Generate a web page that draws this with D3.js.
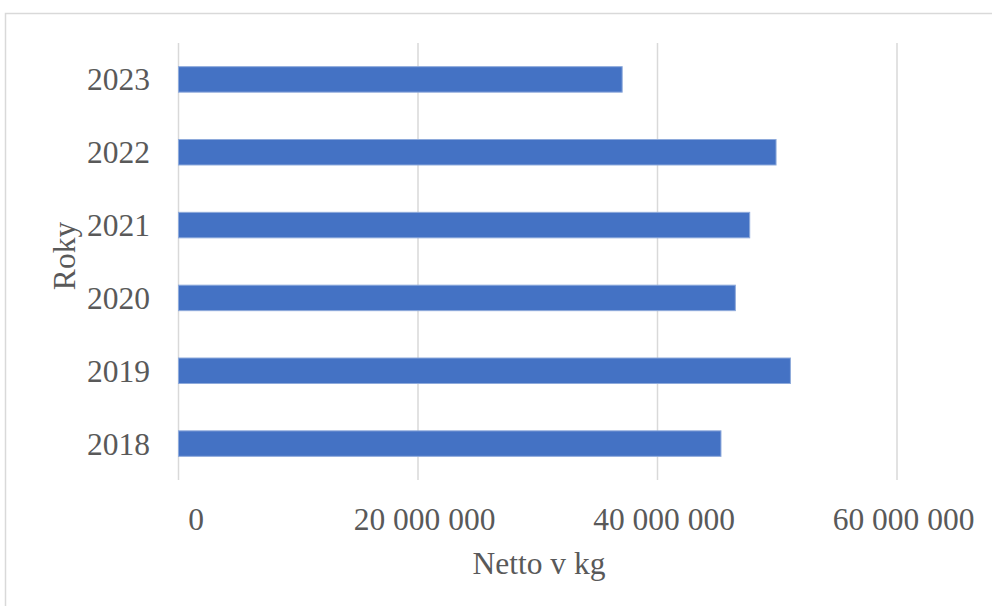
<!DOCTYPE html>
<html>
<head>
<meta charset="utf-8">
<script src="https://cdn.jsdelivr.net/npm/d3@7"></script>
<style>
  body { margin: 0; background: #fff; }
  text { font-family: "Liberation Serif", "Times New Roman", serif; }
</style>
</head>
<body>
<svg width="992" height="606"></svg>
<script>
// data
const years = ['2018', '2019', '2020', '2021', '2022', '2023']
const netto = [45300000, 51100000, 46500000, 47700000, 49900000, 37050000]
const xTicks = [0, 20000000, 40000000, 60000000]

const fontSize = 31.5
const svg = d3.select('svg')

// chart frame (only top and left edge show)
svg.append('path')
    .attr('d', 'M5.5,606 V13.5 H992')
    .attr('fill', 'none')
    .attr('stroke', '#d9d9d9')
    .attr('stroke-width', 1.5)

const xScale = d3.scaleLinear()
    .domain([0, 60000000])
    .range([178.5, 897])

const yScale = d3.scaleBand()
    .domain(years.slice().reverse())
    .range([43, 480])
    .paddingInner(0.65)
    .paddingOuter(0.325)

// gridlines
svg.selectAll('line.grid')
    .data(xTicks)
    .join('line')
    .attr('class', 'grid')
    .attr('x1', d => xScale(d))
    .attr('x2', d => xScale(d))
    .attr('y1', 43)
    .attr('y2', 480)
    .attr('stroke', '#d9d9d9')
    .attr('stroke-width', 1.5)

// bars
svg.selectAll('rect.bar')
    .data(years.map((y, i) => ({ year: y, value: netto[i] })))
    .join('rect')
    .attr('class', 'bar')
    .attr('x', xScale(0))
    .attr('y', d => yScale(d.year))
    .attr('width', d => xScale(d.value) - xScale(0))
    .attr('height', yScale.bandwidth())
    .attr('fill', '#4472c4')
    .attr('stroke', '#8eaadb')
    .attr('stroke-width', 1)

// x axis labels
const fmt = d => d3.format(',')(d).replace(/,/g, ' ')
const xAxis = d3.axisBottom(xScale)
    .tickValues(xTicks)
    .tickFormat(fmt)
    .tickSize(0)
    .tickPadding(0)

const gx = svg.append('g')
    .attr('transform', 'translate(0,530)')
    .call(xAxis)
gx.select('.domain').remove()
gx.selectAll('text')
    .attr('dy', 0)
    .attr('dx', d => d === 0 ? 17 : 6)
    .attr('font-size', fontSize)
    .attr('font-family', '"Liberation Serif", serif')
    .attr('fill', '#595959')

// y axis labels
const yAxis = d3.axisLeft(yScale)
    .tickSize(0)
    .tickPadding(28.5)

const gy = svg.append('g')
    .attr('transform', `translate(${xScale(0)},0)`)
    .call(yAxis)
gy.select('.domain').remove()
gy.selectAll('text')
    .attr('dy', '0.35em')
    .attr('font-size', fontSize)
    .attr('font-family', '"Liberation Serif", serif')
    .attr('fill', '#595959')

// axis titles
svg.append('text')
    .attr('x', 539)
    .attr('y', 574)
    .attr('text-anchor', 'middle')
    .attr('font-size', fontSize)
    .attr('fill', '#595959')
    .text('Netto v kg')

svg.append('text')
    .attr('transform', 'translate(75,256) rotate(-90)')
    .attr('text-anchor', 'middle')
    .attr('font-size', fontSize)
    .attr('fill', '#595959')
    .text('Roky')
</script>
</body>
</html>
